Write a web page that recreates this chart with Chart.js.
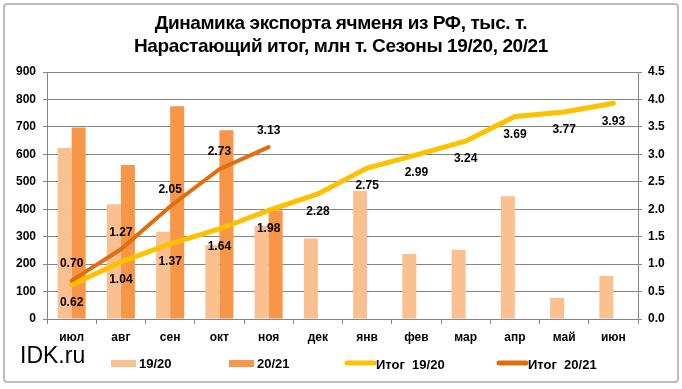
<!DOCTYPE html>
<html lang="ru">
<head>
<meta charset="UTF-8">
<title>Динамика экспорта ячменя из РФ</title>
<script src="https://cdn.jsdelivr.net/npm/chart.js"></script>
<style>
    body { margin: 0; background: #fff; }
    #wrap { position: relative; width: 682px; height: 389px; }
</style>
</head>
<body>
<div id="wrap">
    <canvas id="exportChart" width="682" height="389"></canvas>
</div>
<script>
// months of the season
const months = ['июл', 'авг', 'сен', 'окт', 'ноя', 'дек', 'янв', 'фев', 'мар', 'апр', 'май', 'июн'];
// monthly export, thousand tonnes
const export1920 = [623, 418, 318, 270, 340, 293, 466, 237, 252, 447, 77, 157];
const export2021 = [698, 561, 775, 688, 395, null, null, null, null, null, null, null];
// running total, million tonnes
const total1920 = [0.62, 1.04, 1.37, 1.64, 1.98, 2.28, 2.75, 2.99, 3.24, 3.69, 3.77, 3.93];
const total2021 = [0.70, 1.27, 2.05, 2.73, 3.13, null, null, null, null, null, null, null];

const titleLines = ['Динамика экспорта ячменя из РФ, тыс. т.', 'Нарастающий итог, млн т. Сезоны 19/20, 20/21'];

const colLight = '#FAC090';
const colOrange = '#F79646';
const colYellow = '#FFC000';
const colDark = '#E46C0A';
const gridCol = '#868686';
const baseFont = '"Liberation Sans", Arial, sans-serif';

// frame, title, logo, legend
const decorPlugin = {
    id: 'decor',
    beforeDraw(chart) {
        const ctx = chart.ctx;
        ctx.save();
        ctx.fillStyle = '#fff';
        ctx.fillRect(0, 0, chart.width, chart.height);
        ctx.strokeStyle = '#bdbdbd';
        ctx.lineWidth = 2;
        ctx.beginPath();
        ctx.roundRect(4, 4, 674, 378, 3);
        ctx.stroke();
        ctx.restore();
    },
    afterDraw(chart) {
        const ctx = chart.ctx;
        ctx.save();
        ctx.fillStyle = '#000';
        ctx.textAlign = 'center';
        ctx.textBaseline = 'middle';
        ctx.font = 'bold 19px ' + baseFont;
        ctx.letterSpacing = '-0.4px';
        ctx.fillText(titleLines[0], 341, 24);
        ctx.fillText(titleLines[1], 341, 47);
        ctx.letterSpacing = '0px';

        ctx.textAlign = 'left';
        ctx.font = '23px ' + baseFont;
        ctx.fillText('IDK.ru', 20, 357);

        // legend
        const ly = 363;
        ctx.font = 'bold 13px ' + baseFont;
        ctx.fillStyle = colLight;
        ctx.fillRect(111, ly - 3, 25, 7);
        ctx.fillStyle = colOrange;
        ctx.fillRect(229, ly - 3, 25, 7);
        ctx.lineWidth = 5;
        ctx.lineCap = 'round';
        ctx.strokeStyle = colYellow;
        ctx.beginPath(); ctx.moveTo(347, ly); ctx.lineTo(374, ly); ctx.stroke();
        ctx.strokeStyle = colDark;
        ctx.beginPath(); ctx.moveTo(499, ly); ctx.lineTo(526, ly); ctx.stroke();
        ctx.fillStyle = '#000';
        ctx.fillText('19/20', 139, ly + 1);
        ctx.fillText('20/21', 257, ly + 1);
        ctx.fillText('Итог  19/20', 376, ly + 2);
        ctx.fillText('Итог  20/21', 528, ly + 2);
        ctx.restore();
    }
};

// value labels for the running-total lines
const lineLabels = {
    id: 'lineLabels',
    afterDatasetsDraw(chart) {
        const ctx = chart.ctx;
        ctx.save();
        ctx.font = 'bold 12px ' + baseFont;
        ctx.fillStyle = '#000';
        ctx.textAlign = 'center';
        ctx.textBaseline = 'middle';
        chart.data.datasets.forEach((ds, i) => {
            if (ds.type !== 'line') return;
            const dy = ds.label === 'Итог 19/20' ? 18 : -17;
            chart.getDatasetMeta(i).data.forEach((pt, j) => {
                const v = ds.data[j];
                if (v === null) return;
                ctx.fillText(v.toFixed(2), pt.x, pt.y + dy);
            });
        });
        ctx.restore();
    }
};

const ctx = document.getElementById('exportChart').getContext('2d');
const exportChart = new Chart(ctx, {
    data: {
        labels: months,
        datasets: [
            { type: 'bar', label: '19/20', data: export1920, backgroundColor: colLight, yAxisID: 'y', order: 3 },
            { type: 'bar', label: '20/21', data: export2021, backgroundColor: colOrange, yAxisID: 'y', order: 3 },
            { type: 'line', label: 'Итог 19/20', data: total1920, borderColor: colYellow, borderWidth: 5,
              pointRadius: 0, tension: 0, borderCapStyle: 'round', yAxisID: 'y1', order: 1 },
            { type: 'line', label: 'Итог 20/21', data: total2021, borderColor: colDark, borderWidth: 4,
              pointRadius: 0, tension: 0, borderCapStyle: 'round', yAxisID: 'y1', order: 0 }
        ]
    },
    options: {
        responsive: false,
        animation: false,
        categoryPercentage: 0.57,
        barPercentage: 1.0,
        layout: { padding: { top: 72, left: 0, right: 0, bottom: 0 } },
        plugins: {
            legend: { display: false },
            tooltip: { enabled: false }
        },
        scales: {
            x: {
                grid: { offset: true, drawOnChartArea: false, tickLength: 5, color: gridCol },
                border: { color: gridCol },
                ticks: { color: '#000', font: { family: baseFont, size: 12, weight: 'bold' }, padding: 6 },
                afterFit(scale) { scale.height = 70; }
            },
            y: {
                position: 'left',
                min: 0, max: 900,
                grid: { color: gridCol, tickLength: 4 },
                border: { color: gridCol },
                ticks: { stepSize: 100, color: '#000', font: { family: baseFont, size: 12, weight: 'bold' }, padding: 7 },
                afterFit(scale) { scale.width = 47; }
            },
            y1: {
                position: 'right',
                min: 0, max: 4.5,
                grid: { drawOnChartArea: false, color: gridCol, tickLength: 4 },
                border: { color: gridCol },
                ticks: { stepSize: 0.5, color: '#000', font: { family: baseFont, size: 12, weight: 'bold' }, padding: 6,
                         callback: v => v.toFixed(1) },
                afterFit(scale) { scale.width = 44; }
            }
        }
    },
    plugins: [decorPlugin, lineLabels]
});
</script>
</body>
</html>
